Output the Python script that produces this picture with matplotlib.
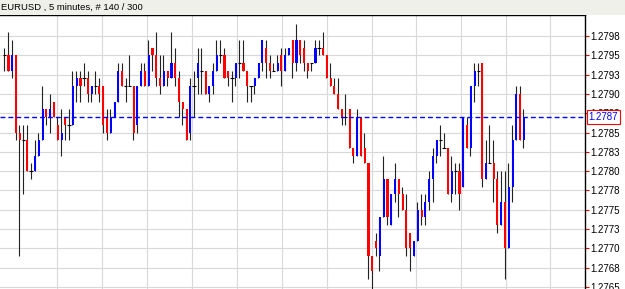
import numpy as np
import matplotlib.pyplot as plt
from matplotlib.patches import Rectangle
import matplotlib.transforms as mtrans

title = 'EURUSD , 5 minutes, # 140 / 300'

opens = [1.2795, 1.2795, 1.2793, 1.2795, 1.2785, 1.2784, 1.2784, 1.2780, 1.2780, 1.2782,
         1.2784, 1.2788, 1.2787, 1.2789, 1.2786, 1.2784, 1.2787, 1.2786, 1.2786, 1.2791,
         1.2792, 1.2792, 1.2792, 1.2790, 1.2791, 1.2791, 1.2791, 1.2787, 1.2785, 1.2787,
         1.2789, 1.2793, 1.2791, 1.2791, 1.2791, 1.2786, 1.2791, 1.2793, 1.2791, 1.2796,
         1.2795, 1.2792, 1.2791, 1.2793, 1.2792, 1.2794, 1.2792, 1.2789, 1.2788, 1.2785,
         1.2791, 1.2792, 1.2793, 1.2793, 1.2790, 1.2791, 1.2793, 1.2795, 1.2795, 1.2793,
         1.2792, 1.2792, 1.2794, 1.2794, 1.2793, 1.2791, 1.2791, 1.2792, 1.2794, 1.2796,
         1.2794, 1.2793, 1.2793, 1.2795, 1.2793, 1.2795, 1.2797, 1.2794, 1.2797, 1.2796,
         1.2794, 1.2794, 1.2794, 1.2796, 1.2796, 1.2795, 1.2792, 1.2791, 1.2790, 1.2788,
         1.2787, 1.2788, 1.2783, 1.2782, 1.2787, 1.2783, 1.2781, 1.2769, 1.2771, 1.2769,
         1.2774, 1.2779, 1.2773, 1.2777, 1.2779, 1.2777, 1.2775, 1.2772, 1.2769, 1.2771,
         1.2775, 1.2774, 1.2776, 1.2779, 1.2782, 1.2784, 1.2783, 1.2783, 1.2777, 1.2780,
         1.2780, 1.2778, 1.2786, 1.2783, 1.2791, 1.2793, 1.2794, 1.2779, 1.2781, 1.2781,
         1.2779, 1.2773, 1.2776, 1.2770, 1.2778, 1.2784, 1.2790, 1.2784]
highs = [1.2796, 1.2798, 1.2797, 1.2795, 1.2786, 1.2786, 1.2786, 1.2781, 1.2784, 1.2785,
         1.2791, 1.2788, 1.2790, 1.2789, 1.2787, 1.2788, 1.2787, 1.2788, 1.2793, 1.2793,
         1.2793, 1.2794, 1.2793, 1.2791, 1.2793, 1.2792, 1.2791, 1.2788, 1.2788, 1.2789,
         1.2794, 1.2794, 1.2792, 1.2795, 1.2791, 1.2791, 1.2794, 1.2794, 1.2797, 1.2796,
         1.2798, 1.2795, 1.2795, 1.2793, 1.2798, 1.2796, 1.2793, 1.2789, 1.2788, 1.2792,
         1.2793, 1.2796, 1.2796, 1.2793, 1.2791, 1.2794, 1.2797, 1.2797, 1.2796, 1.2793,
         1.2793, 1.2794, 1.2797, 1.2797, 1.2793, 1.2791, 1.2792, 1.2794, 1.2797, 1.2797,
         1.2795, 1.2794, 1.2795, 1.2796, 1.2796, 1.2796, 1.2797, 1.2799, 1.2797, 1.2797,
         1.2794, 1.2794, 1.2797, 1.2797, 1.2798, 1.2795, 1.2794, 1.2792, 1.2792, 1.2788,
         1.2790, 1.2788, 1.2783, 1.2788, 1.2787, 1.2785, 1.2781, 1.2769, 1.2772, 1.2774,
         1.2782, 1.2779, 1.2777, 1.2781, 1.2779, 1.2778, 1.2777, 1.2772, 1.2771, 1.2776,
         1.2777, 1.2777, 1.2780, 1.2783, 1.2784, 1.2786, 1.2785, 1.2783, 1.2782, 1.2781,
         1.2781, 1.2787, 1.2787, 1.2791, 1.2794, 1.2794, 1.2794, 1.2784, 1.2786, 1.2784,
         1.2780, 1.2780, 1.2780, 1.2781, 1.2786, 1.2791, 1.2791, 1.2788]
lows = [1.2793, 1.2793, 1.2792, 1.2784, 1.2769, 1.2777, 1.2780, 1.2779, 1.2780, 1.2782,
        1.2784, 1.2786, 1.2785, 1.2787, 1.2784, 1.2782, 1.2784, 1.2784, 1.2786, 1.2789,
        1.2789, 1.2791, 1.2789, 1.2789, 1.2790, 1.2789, 1.2785, 1.2784, 1.2785, 1.2787,
        1.2789, 1.2791, 1.2789, 1.2791, 1.2784, 1.2785, 1.2791, 1.2791, 1.2791, 1.2793,
        1.2791, 1.2790, 1.2791, 1.2791, 1.2792, 1.2791, 1.2787, 1.2786, 1.2784, 1.2784,
        1.2787, 1.2790, 1.2790, 1.2790, 1.2789, 1.2790, 1.2793, 1.2794, 1.2792, 1.2791,
        1.2789, 1.2791, 1.2792, 1.2793, 1.2789, 1.2789, 1.2790, 1.2792, 1.2793, 1.2792,
        1.2792, 1.2793, 1.2793, 1.2791, 1.2793, 1.2795, 1.2792, 1.2793, 1.2794, 1.2793,
        1.2792, 1.2793, 1.2794, 1.2795, 1.2795, 1.2792, 1.2791, 1.2790, 1.2788, 1.2786,
        1.2786, 1.2783, 1.2781, 1.2782, 1.2782, 1.2781, 1.2766, 1.2764, 1.2769, 1.2767,
        1.2774, 1.2773, 1.2773, 1.2776, 1.2774, 1.2775, 1.2769, 1.2767, 1.2769, 1.2771,
        1.2773, 1.2773, 1.2775, 1.2776, 1.2781, 1.2782, 1.2783, 1.2777, 1.2776, 1.2777,
        1.2775, 1.2778, 1.2783, 1.2782, 1.2789, 1.2791, 1.2778, 1.2779, 1.2781, 1.2776,
        1.2772, 1.2773, 1.2766, 1.2770, 1.2776, 1.2784, 1.2784, 1.2783]
closes = [1.2795, 1.2793, 1.2795, 1.2785, 1.2784, 1.2784, 1.2780, 1.2780, 1.2782, 1.2784,
          1.2788, 1.2787, 1.2788, 1.2787, 1.2784, 1.2785, 1.2786, 1.2786, 1.2791, 1.2792,
          1.2791, 1.2792, 1.2790, 1.2791, 1.2791, 1.2790, 1.2786, 1.2785, 1.2787, 1.2789,
          1.2793, 1.2791, 1.2791, 1.2791, 1.2785, 1.2791, 1.2793, 1.2791, 1.2795, 1.2795,
          1.2792, 1.2791, 1.2793, 1.2792, 1.2794, 1.2792, 1.2789, 1.2788, 1.2784, 1.2791,
          1.2791, 1.2794, 1.2793, 1.2790, 1.2791, 1.2793, 1.2795, 1.2795, 1.2792, 1.2792,
          1.2792, 1.2794, 1.2794, 1.2793, 1.2791, 1.2791, 1.2792, 1.2794, 1.2797, 1.2794,
          1.2793, 1.2793, 1.2794, 1.2793, 1.2795, 1.2796, 1.2794, 1.2797, 1.2795, 1.2794,
          1.2793, 1.2794, 1.2796, 1.2796, 1.2795, 1.2792, 1.2791, 1.2790, 1.2788, 1.2787,
          1.2787, 1.2783, 1.2782, 1.2787, 1.2782, 1.2781, 1.2769, 1.2767, 1.2770, 1.2774,
          1.2779, 1.2774, 1.2777, 1.2779, 1.2777, 1.2775, 1.2770, 1.2770, 1.2771, 1.2775,
          1.2774, 1.2776, 1.2779, 1.2782, 1.2784, 1.2784, 1.2783, 1.2777, 1.2780, 1.2780,
          1.2777, 1.2787, 1.2783, 1.2791, 1.2793, 1.2793, 1.2779, 1.2781, 1.2781, 1.2779,
          1.2773, 1.2776, 1.2770, 1.2778, 1.2784, 1.2790, 1.2784, 1.2787]

tick_vals = [1.27975, 1.2795, 1.27925, 1.2790, 1.27875, 1.2785, 1.27825,
             1.2780, 1.27775, 1.2775, 1.27725, 1.2770, 1.27675, 1.2765]
tick_labels = ['1.2798', '1.2795', '1.2793', '1.2790', '1.2788', '1.2785', '1.2783',
               '1.2780', '1.2778', '1.2775', '1.2773', '1.2770', '1.2768', '1.2765']
last_price = 1.2787

plt.rcParams['font.family'] = ['Liberation Sans', 'DejaVu Sans']

W, H = 625, 289
fig = plt.figure(figsize=(W / 100, H / 100), dpi=100)
fig.patch.set_facecolor('white')

# header strip
top = 15
fig.patches.append(Rectangle((0, 1 - top / H), 1, top / H, transform=fig.transFigure,
                             facecolor='#f0f0ea', edgecolor='none'))
fig.text(1 / W, 1 - 7.5 / H, title, ha='left', va='center', fontsize=6.8, color='black')

ax = fig.add_axes([0, 0, 585 / W, 1 - top / H])
ax.set_facecolor('white')

o = np.array(opens)
h = np.array(highs)
l = np.array(lows)
c = np.array(closes)
x = np.arange(len(o))

step = 3.79  # pixels per bar
x0 = -4.7 / step
ax.set_xlim(x0, x0 + 585 / step)
ax.set_ylim(1.276473, 1.280022)

# grid
grid_px = [57, 102, 147, 192, 237, 282, 327, 372, 416, 461, 506, 550]
ax.set_xticks([x0 + p / step for p in grid_px])
ax.set_yticks(tick_vals)
ax.set_yticklabels(tick_labels)
ax.grid(True, color='#d8d8d8', lw=0.8, zorder=0)
ax.set_axisbelow(True)

# wicks
ax.vlines(x - 0.12, l, h, color='#222222', lw=0.8, zorder=2)

# bodies
up = c > o
down = c < o
doji = c == o
ax.bar(x[up], (c - o)[up], bottom=o[up], width=0.55, color='#0000ff', lw=0, zorder=3)
ax.bar(x[down], (o - c)[down], bottom=c[down], width=0.55, color='#ff0000', lw=0, zorder=3)
ax.hlines(o[doji], x[doji] - 0.5, x[doji] + 0.4, color='black', lw=0.8, zorder=3)

# current price
ax.axhline(last_price, color='#0000ff', lw=1, ls=(0, (3.5, 2.2)), zorder=4)
trans = mtrans.blended_transform_factory(ax.transAxes, ax.transData)
ax.text(1.0065, last_price, '1.2787', transform=trans, ha='left', va='center',
        fontsize=7, color='#0000ff', zorder=10,
        bbox=dict(boxstyle='square,pad=0.22', fc='white', ec='#ff0000', lw=0.8))

for s in ['left', 'bottom']:
    ax.spines[s].set_visible(False)
for s in ['top', 'right']:
    ax.spines[s].set_color('black')
    ax.spines[s].set_linewidth(1)

ax.yaxis.tick_right()
ax.tick_params(axis='y', colors='#ff0000', labelcolor='black', length=3, width=0.8,
               labelsize=7, pad=1)
ax.tick_params(axis='x', length=0, labelbottom=False)

fig.savefig('out.png', dpi=100)
